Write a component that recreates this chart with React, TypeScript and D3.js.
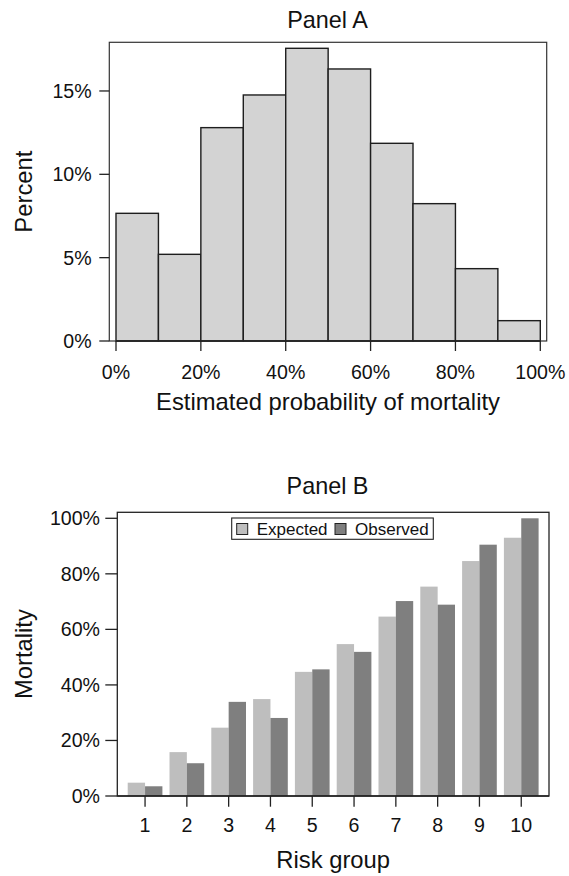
import React from "react";
import * as d3 from "d3";

// ---------- Data ----------
const histBinStarts = [0, 0.1, 0.2, 0.3, 0.4, 0.5, 0.6, 0.7, 0.8, 0.9];
const histBinWidth = 0.1;
const histPercent = [7.66, 5.2, 12.8, 14.76, 17.56, 16.32, 11.86, 8.24, 4.34, 1.22];
const yTicksA = [0, 5, 10, 15];
const xTicksA = [0, 0.2, 0.4, 0.6, 0.8, 1.0];

const riskGroups = ["1", "2", "3", "4", "5", "6", "7", "8", "9", "10"];
const seriesNames = ["Expected", "Observed"];
const expectedMortality = [0.048, 0.158, 0.246, 0.349, 0.447, 0.547, 0.646, 0.754, 0.846, 0.93];
const observedMortality = [0.035, 0.118, 0.339, 0.281, 0.456, 0.519, 0.702, 0.689, 0.905, 1.0];
const yTicksB = [0, 0.2, 0.4, 0.6, 0.8, 1.0];

const seriesColors = ["#bebebe", "#7f7f7f"];
const FONT = "'Liberation Sans', Arial, Helvetica, sans-serif";

export default function App() {
  // ---------- Panel A layout ----------
  const boxA = { left: 109.3, right: 546.7, top: 42.3, bottom: 341 };
  const xA = d3.scaleLinear().domain([0, 1]).range([116, 540.3]);
  const yA = d3.scaleLinear().domain([0, 17.92]).range([boxA.bottom, boxA.top]);
  const pct = d3.format(".0%");

  // ---------- Panel B layout ----------
  const boxB = { left: 117.3, right: 549, top: 512.3, bottom: 796 };
  const xB = d3
    .scaleBand<string>()
    .domain(riskGroups)
    .range([boxB.left, boxB.right])
    .paddingInner(0.17)
    .paddingOuter(0.249);
  const xSub = d3.scaleBand<string>().domain(seriesNames).range([0, xB.bandwidth()]).padding(0);
  const yB = d3.scaleLinear().domain([0, 1.0216]).range([boxB.bottom, boxB.top]);
  const seriesData = [expectedMortality, observedMortality];

  const tickLen = 10;
  const tickFont = 19.6;
  const labelFont = 23.8;

  return (
    <svg
      width={569}
      height={876}
      style={{ position: "absolute", left: 0, top: 0, background: "#fff" }}
      fontFamily={FONT}
    >
      <rect x={0} y={0} width={569} height={876} fill="#fff" />

      {/* ===== Panel A ===== */}
      <text x={327.5} y={28.3} fontSize={23.4} textAnchor="middle" fill="#111">
        Panel A
      </text>
      {histBinStarts.map((b, i) => (
        <rect
          key={"h" + i}
          x={xA(b)}
          y={yA(histPercent[i])}
          width={xA(b + histBinWidth) - xA(b)}
          height={yA(0) - yA(histPercent[i])}
          fill="#d3d3d3"
          stroke="#1e1e1e"
          strokeWidth={1.4}
        />
      ))}
      <rect
        x={boxA.left}
        y={boxA.top}
        width={boxA.right - boxA.left}
        height={boxA.bottom - boxA.top}
        fill="none"
        stroke="#333"
        strokeWidth={1.2}
      />
      {/* y axis A */}
      {yTicksA.map((t) => (
        <g key={"ya" + t}>
          <line x1={boxA.left - tickLen} x2={boxA.left} y1={yA(t)} y2={yA(t)} stroke="#222" strokeWidth={1.3} />
          <text x={91.7} y={yA(t)} fontSize={tickFont} textAnchor="end" dominantBaseline="central" fill="#111">
            {t + "%"}
          </text>
        </g>
      ))}
      {/* x axis A */}
      <line x1={xA(0)} x2={xA(1)} y1={boxA.bottom} y2={boxA.bottom} stroke="#222" strokeWidth={1.3} />
      {xTicksA.map((t) => (
        <g key={"xa" + t}>
          <line x1={xA(t)} x2={xA(t)} y1={boxA.bottom} y2={boxA.bottom + tickLen} stroke="#222" strokeWidth={1.3} />
          <text x={xA(t)} y={378.5} fontSize={tickFont} textAnchor="middle" fill="#111">
            {pct(t)}
          </text>
        </g>
      ))}
      <text x={(boxA.left + boxA.right) / 2} y={410} fontSize={labelFont} textAnchor="middle" fill="#111">
        Estimated probability of mortality
      </text>
      <text
        transform={`translate(32, ${(boxA.top + boxA.bottom) / 2}) rotate(-90)`}
        fontSize={labelFont}
        textAnchor="middle"
        fill="#111"
      >
        Percent
      </text>

      {/* ===== Panel B ===== */}
      <text x={327.5} y={494.3} fontSize={23.4} textAnchor="middle" fill="#111">
        Panel B
      </text>
      {riskGroups.map((g, gi) => (
        <g key={"g" + g} transform={`translate(${xB(g)},0)`}>
          {seriesNames.map((s, si) => (
            <rect
              key={s}
              x={xSub(s)}
              y={yB(seriesData[si][gi])}
              width={xSub.bandwidth()}
              height={yB(0) - yB(seriesData[si][gi])}
              fill={seriesColors[si]}
            />
          ))}
        </g>
      ))}
      <rect
        x={boxB.left}
        y={boxB.top}
        width={boxB.right - boxB.left}
        height={boxB.bottom - boxB.top}
        fill="none"
        stroke="#222"
        strokeWidth={1.3}
      />
      <line x1={boxB.left} x2={boxB.right} y1={boxB.bottom} y2={boxB.bottom} stroke="#222" strokeWidth={1.6} />
      {/* y axis B */}
      {yTicksB.map((t) => (
        <g key={"yb" + t}>
          <line x1={boxB.left - 12} x2={boxB.left} y1={yB(t)} y2={yB(t)} stroke="#222" strokeWidth={1.3} />
          <text x={100} y={yB(t)} fontSize={tickFont} textAnchor="end" dominantBaseline="central" fill="#111">
            {pct(t)}
          </text>
        </g>
      ))}
      {/* x axis B */}
      {riskGroups.map((g) => {
        const cx = (xB(g) as number) + xB.bandwidth() / 2;
        return (
          <g key={"xb" + g}>
            <line x1={cx} x2={cx} y1={boxB.bottom} y2={boxB.bottom + 10.7} stroke="#222" strokeWidth={1.3} />
            <text x={cx} y={832} fontSize={tickFont} textAnchor="middle" fill="#111">
              {g}
            </text>
          </g>
        );
      })}
      <text x={(boxB.left + boxB.right) / 2} y={867.5} fontSize={labelFont} textAnchor="middle" fill="#111">
        Risk group
      </text>
      <text
        transform={`translate(32, ${(boxB.top + boxB.bottom) / 2}) rotate(-90)`}
        fontSize={labelFont}
        textAnchor="middle"
        fill="#111"
      >
        Mortality
      </text>

      {/* legend */}
      <g>
        <rect x={231.7} y={518} width={201.6} height={21.3} fill="#fff" stroke="#222" strokeWidth={1.1} />
        {seriesNames.map((s, i) => {
          const lx = i === 0 ? 236.7 : 335;
          return (
            <g key={"lg" + s}>
              <rect x={lx} y={523.5} width={11} height={11} fill={seriesColors[i]} stroke="#222" strokeWidth={1} />
              <text x={lx + 20} y={534.6} fontSize={17} fill="#111">
                {s}
              </text>
            </g>
          );
        })}
      </g>
    </svg>
  );
}
